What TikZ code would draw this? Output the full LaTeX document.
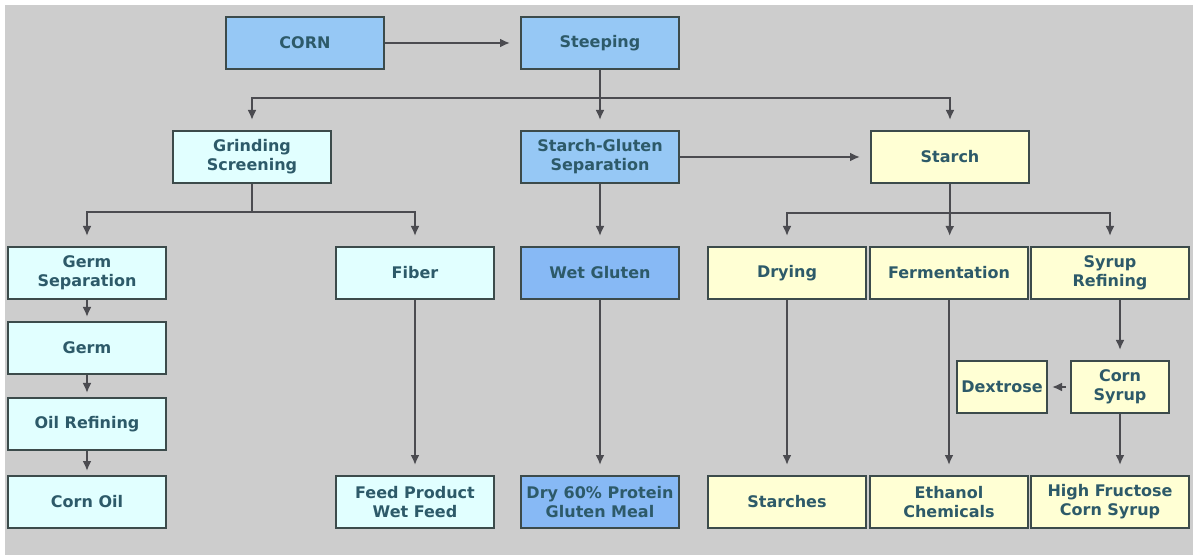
\documentclass[tikz,border=0pt]{standalone}
\usepackage{fontspec}
\setmainfont{DejaVu Sans}
\usetikzlibrary{arrows.meta,positioning}
\definecolor{bgray}{RGB}{205,205,205}
\definecolor{boxblue}{RGB}{150,200,245}
\definecolor{boxdeep}{RGB}{135,185,245}
\definecolor{boxcyan}{RGB}{225,255,255}
\definecolor{boxyellow}{RGB}{255,255,212}
\definecolor{txtcol}{RGB}{45,90,105}
\definecolor{edgecol}{RGB}{60,75,75}
\definecolor{linecol}{RGB}{75,75,80}

\begin{document}
\begin{tikzpicture}[x=0.5pt,y=-0.5pt,
  proc/.style={rectangle,draw=edgecol,line width=1pt,text=txtcol,
    font=\bfseries\fontsize{8}{9.5}\selectfont,align=center,
    minimum width=79pt,minimum height=26pt,inner sep=1pt},
  blueproc/.style={proc,fill=boxblue},
  cyanproc/.style={proc,fill=boxcyan},
  yellowproc/.style={proc,fill=boxyellow},
  link/.style={draw=linecol,line width=1pt},
  arr/.style={link,-{Latex[length=5pt,width=4.5pt]},shorten >=5pt},
  shortarr/.style={arr,shorten >=2pt}]

% background
\fill[white] (0,0) rectangle (1193,555);
\fill[bgray] (5,5) rectangle (1193,555);

% top row
\node[blueproc] (corn) at (305,43) {CORN};
\node[blueproc] (steep) at (600,43) {Steeping};

% second row
\node[cyanproc] (grind) at (252,157) {Grinding\\Screening};
\node[blueproc] (sgs) at (600,157) {Starch-Gluten\\Separation};
\node[yellowproc] (starch) at (950,157) {Starch};

% third row
\node[cyanproc] (germsep) at (87,273) {Germ\\Separation};
\node[cyanproc] (fiber) at (415,273) {Fiber};
\node[blueproc,fill=boxdeep] (wetgl) at (600,273) {Wet Gluten};
\node[yellowproc] (drying) at (787,273) {Drying};
\node[yellowproc] (ferm) at (949,273) {Fermentation};
\node[yellowproc] (syrup) at (1110,273) {Syrup\\Refining};

% germ column
\node[cyanproc] (germ) at (87,348) {Germ};
\node[cyanproc] (oilref) at (87,424) {Oil Refining};
\node[cyanproc] (cornoil) at (87,502) {Corn Oil};

% syrup branch
\node[yellowproc,minimum width=45pt] (dex) at (1002,387) {Dextrose};
\node[yellowproc,minimum width=49pt] (csyrup) at (1120,387) {Corn\\Syrup};

% products
\node[cyanproc] (feed) at (415,502) {Feed Product\\Wet Feed};
\node[blueproc,fill=boxdeep] (glumeal) at (600,502) {Dry 60\% Protein\\Gluten Meal};
\node[yellowproc] (starches) at (787,502) {Starches};
\node[yellowproc] (ethanol) at (949,502) {Ethanol\\Chemicals};
\node[yellowproc] (hfcs) at (1110,502) {High Fructose\\Corn Syrup};

% branch points
\coordinate (bar1) at (600,98);
\coordinate (bar2) at (252,212);
\coordinate (bar3) at (950,213);

% connectors
\draw[arr] (corn) -- (steep);
\draw[link] (steep) -- (bar1);
\draw[arr] (bar1) -| (grind);
\draw[arr] (bar1) -- (sgs);
\draw[arr] (bar1) -| (starch);
\draw[arr] (sgs) -- (starch);
\draw[link] (grind) -- (bar2);
\draw[arr] (bar2) -| (germsep);
\draw[arr] (bar2) -| (fiber);
\draw[arr] (sgs) -- (wetgl);
\draw[link] (starch) -- (bar3);
\draw[arr] (bar3) -| (drying);
\draw[arr] (bar3) -- (ferm);
\draw[arr] (bar3) -| (syrup);
\draw[shortarr] (germsep) -- (germ);
\draw[shortarr] (germ) -- (oilref);
\draw[shortarr] (oilref) -- (cornoil);
\draw[arr] (fiber) -- (feed);
\draw[arr] (wetgl) -- (glumeal);
\draw[arr] (drying) -- (starches);
\draw[arr] (ferm) -- (ethanol);
\draw[arr] (syrup.south -| csyrup.north) -- (csyrup.north);
\draw[arr] (csyrup.south) -- (csyrup.south |- hfcs.north);
\draw[shortarr,shorten <=2pt] (csyrup) -- (dex);
\end{tikzpicture}
\end{document}
